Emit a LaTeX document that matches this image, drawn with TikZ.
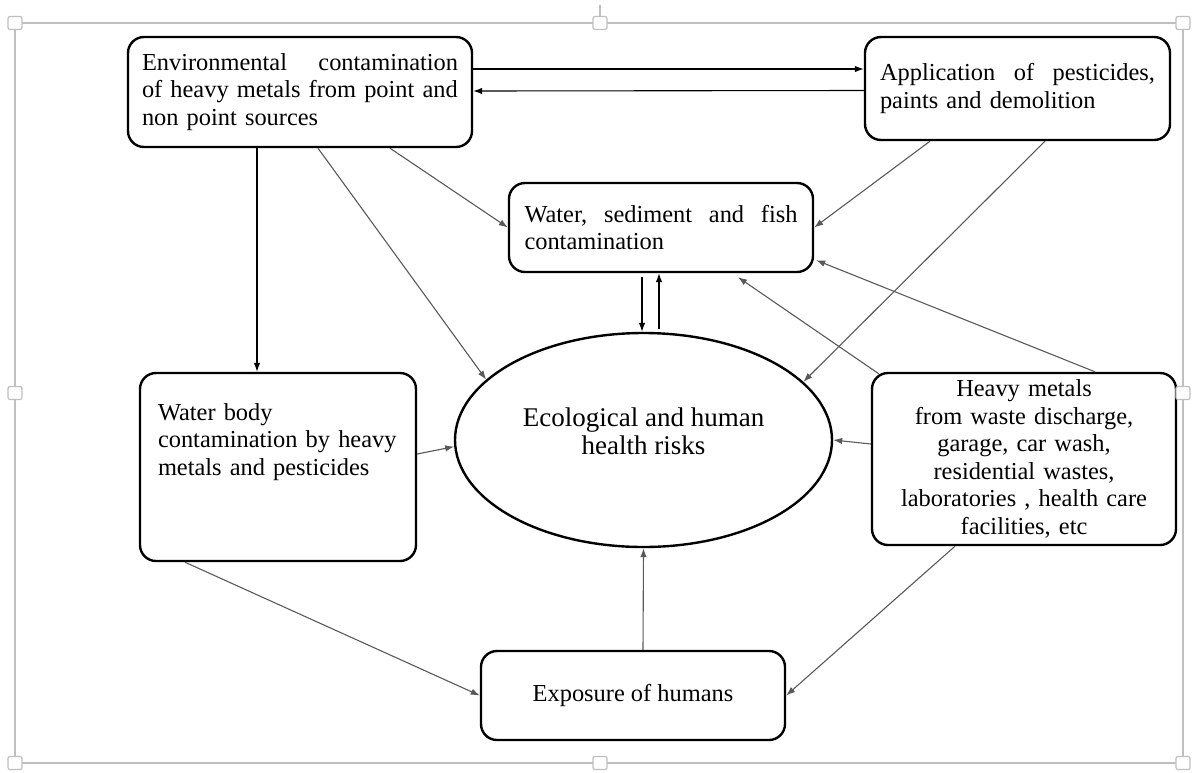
\documentclass[tikz,border=0pt]{standalone}
\usepackage{fontspec}
\setmainfont{Liberation Serif}
\usetikzlibrary{arrows.meta,calc,shapes.geometric}
\definecolor{FrameClr}{rgb}{0.75,0.75,0.75}
\definecolor{LinkClr}{rgb}{0.35,0.35,0.35}

\begin{document}
\begin{tikzpicture}[x=1pt,y=-1pt,
  box/.style={draw,line width=2.4pt,rounded corners=16pt,inner xsep=17pt,inner ysep=3pt,
    align=left,font=\fontsize{24.4}{27.6}\selectfont},
  link/.style={line width=1.1pt,color=LinkClr,-{Latex[length=9pt,width=6.5pt]}},
  mainlink/.style={link,color=black},
  handle/.style={draw=FrameClr,fill=white,line width=1.2pt,rounded corners=2pt,
    minimum width=14pt,minimum height=13pt,inner sep=0pt}]
\useasboundingbox (0,0) rectangle (1198,772);

% selection frame
\draw[FrameClr,line width=1.2pt] (15,23) rectangle (1183,763);
\draw[FrameClr,line width=1.2pt] (600,23) -- (600,5);

\node[box,text width=316pt,inner xsep=14pt,minimum width=344pt,minimum height=110pt] (env) at (300,92)
  {Environmental\hfill contamination\\of heavy metals from point and\\non point sources};
\node[box,text width=275pt,inner xsep=15pt,minimum width=305pt,minimum height=103pt] (app) at (1017.5,88.5)
  {Application\hfill of\hfill pesticides,\\paints and demolition};
\node[box,text width=273pt,inner xsep=15.5pt,minimum width=304pt,minimum height=89pt] (water) at (661,227.5)
  {Water,\hfill sediment\hfill and\hfill fish\\contamination};
\node[box,text width=240pt,inner xsep=18pt,minimum width=276pt,minimum height=188pt] (wbody) at (278,467)
  {Water body\\contamination by heavy\\metals and pesticides\\\mbox{}\\\mbox{}};
\node[box,align=center,text width=280pt,inner xsep=12pt,minimum width=304pt,minimum height=172pt] (heavy) at (1024,459)
  {Heavy metals\\from waste discharge,\\garage, car wash,\\residential wastes,\\laboratories , health care\\facilities, etc};
\node[box,align=center,minimum width=304pt,minimum height=89pt] (expo) at (633,695.5)
  {Exposure of humans};
\node[draw,ellipse,line width=2.4pt,minimum width=377pt,minimum height=214pt,inner sep=0pt,
  font=\fontsize{27}{28.5}\selectfont] (risk) at (643.5,440)
  {\raisebox{5pt}[\height][\depth]{\begin{tabular}{@{}c@{}}Ecological and human\\health risks\end{tabular}}};

\draw[mainlink] ($(env.east)+(0,-23)$) -- ($(app.west)+(0,-19.5)$);
\draw[mainlink] ($(app.west)+(0,2)$) -- ($(env.east)+(0,-1)$);
\draw[mainlink] ($(env.south)+(-43,0)$) -- ($(wbody.north)+(-21,0)$);
\draw[link] ($(env.south)+(18,0)$) -- (risk.159);
\draw[link] ($(env.south)+(90,0)$) -- (water.west);
\draw[link] ($(app.south)+(-87.5,0)$) -- (water.east);
\draw[link] ($(app.south)+(27.5,0)$) -- (risk.20);
\draw[mainlink] ($(water.south)+(-19,4)$) -- ($(risk.north)+(-1.5,0)$);
\draw[mainlink] ($(risk.north)+(15.5,-3)$) -- ($(water.south)+(-2,0)$);
\draw[link] ($(heavy.north west)+(8,2)$) -- ($(water.south)+(77,4)$);
\draw[link] ($(heavy.north)+(71,0)$) -- ($(water.south east)+(2,-13)$);
\draw[link] ($(heavy.west)+(0,-15)$) -- (risk.east);
\draw[link] ($(wbody.east)+(0,-13)$) -- (risk.182);
\draw[link] ($(wbody.south)+(-93,0)$) -- (expo.west);
\draw[link] ($(heavy.south)+(-69,0)$) -- (expo.east);
\draw[link] ($(expo.north)+(10,0)$) -- (risk.south);

% frame handles
\foreach \hx/\hy [count=\i] in {15/23,600/23,1183/23,15/393,1183/393,15/763,600/763,1183/763}
  \node[handle] (h\i) at (\hx,\hy) {};
\end{tikzpicture}
\end{document}
